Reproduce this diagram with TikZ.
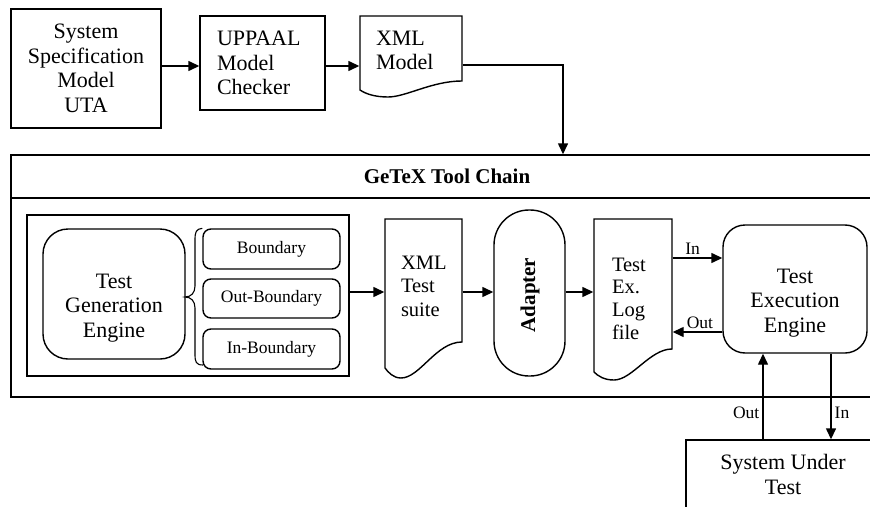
\documentclass[tikz,border=0pt]{standalone}
\usepackage{fontspec}
\setmainfont{Liberation Serif}
\usetikzlibrary{arrows.meta}
\begin{document}
\begin{tikzpicture}[x=1pt, y=-1pt, line width=1.4pt,
  arr/.style={-{Triangle[length=11pt,width=10pt]}},
  txt/.style={font=\fontsize{22}{24.5}\selectfont, inner sep=0pt},
  doctxt/.style={font=\fontsize{20.5}{23.5}\selectfont, inner sep=0pt},
  lbl/.style={font=\fontsize{17.5}{20}\selectfont, inner sep=3pt},
  plainbox/.style={draw, rectangle, inner sep=0pt},
  shapebox/.style={rectangle, inner sep=0pt},
  kindbox/.style={draw, rounded corners=8pt, minimum width=137pt,
    inner sep=0pt, font=\fontsize{17.5}{20}\selectfont}]
\useasboundingbox (0,0) rectangle (870,506);

% model side
\node[plainbox, txt, align=center, minimum width=150pt, minimum height=119pt]
  (spec) at (86,68.5) {System\\Specification\\Model\\UTA};
\node[plainbox, txt, align=left, text width=91pt, minimum width=125pt,
  minimum height=94pt] (uppaal) at (262.5,63) {UPPAAL\\Model\\Checker};
\node[shapebox, txt, align=left, text width=70pt, minimum width=102pt,
  minimum height=70pt] (xmlm) at (411,50.5) {XML\\Model};
\draw (360,16) -- (462,16) -- (462,81)
  .. controls (432,81) and (406,97) .. (388,97)
  .. controls (375,97) and (366,94) .. (360,90) -- cycle;

% tool chain frame
\node[plainbox, minimum width=875pt, minimum height=242pt] (chain) at (448.5,276) {};
\draw (chain.west |- 0,198) -- (chain.east |- 0,198);
\node[txt, font=\fontsize{21}{24.5}\selectfont\bfseries] (title) at (447,176) {GeTeX Tool Chain};

% generator group
\node[plainbox, minimum width=322pt, minimum height=161pt] (gen) at (188,295.5) {};
\node[draw, rounded corners=25pt, minimum width=142pt, minimum height=130pt,
  inner sep=0pt] (tge) at (114,294) {};
\node[txt, align=center] (tgetext) at (114,308) {Test\\Generation\\Engine};
\node[kindbox, minimum height=40pt] (bnd) at (271.5,249) {Boundary};
\node[kindbox, minimum height=39pt] (obnd) at (271.5,298.5) {Out-Boundary};
\node[kindbox, minimum height=40pt] (ibnd) at (271.5,349) {In-Boundary};
\draw[line width=1.1pt] (bnd.north west)
  .. controls (196,229) and (195,232) .. (195,240) -- (195,286)
  .. controls (195,293) and (191,297) .. (185,297)
  .. controls (191,297) and (195,301) .. (195,308) -- (195,354)
  .. controls (195,362) and (196,365) .. (203,365);

% test suite document
\node[shapebox, minimum width=77pt, minimum height=150pt] (xmlts) at (423.5,294) {};
\draw (385,219) -- (462,219) -- (462,342)
  .. controls (436,342) and (420,378) .. (401,378)
  .. controls (393,378) and (388,372) .. (385,368) -- cycle;
\node[doctxt, align=left, text width=46pt] (xmltstext) at (424,286) {XML\\Test\\suite};

% adapter
\node[draw, rounded corners=35pt, minimum width=71pt, minimum height=166pt,
  inner sep=0pt] (adapter) at (529.5,293) {};
\node[txt, rotate=90, font=\fontsize{21}{24.5}\selectfont\bfseries] (adaptertext)
  at (530,295) {Adapter};

% log document
\node[shapebox, minimum width=78pt, minimum height=151pt] (log) at (633,294.5) {};
\draw (594,219) -- (672,219) -- (672,349)
  .. controls (650,349) and (632,380) .. (614,380)
  .. controls (604,380) and (598,376) .. (594,372) -- cycle;
\node[doctxt, align=left, text width=40pt] (logtext) at (632,299)
  {\fontsize{20.5}{22.5}\selectfont Test\\Ex.\\Log\\file};

% execution engine
\node[draw, rounded corners=22pt, minimum width=144pt, minimum height=128pt,
  inner sep=0pt] (tee) at (795,289) {};
\node[txt, align=center] (teetext) at (795,303) {Test\\Execution\\Engine};

% system under test
\node[plainbox, minimum width=200pt, minimum height=80pt] (sut) at (786,480) {};
\node[txt, align=center] (suttext) at (783,474.5) {System Under\\Test};

% connectors
\draw[arr] (spec.east |- 0,66) -- (uppaal.west |- 0,66);
\draw[arr] (uppaal.east |- 0,66) -- (xmlm.west |- 0,66);
\draw[arr] (xmlm.east |- 0,65) -| (chain.north -| 563,0);
\draw[arr] (gen.east |- 0,292) -- (xmlts.west |- 0,292);
\draw[arr] (xmlts.east |- 0,292) -- (adapter.west |- 0,292);
\draw[arr] (adapter.east |- 0,292) -- (log.west |- 0,292);
\draw[arr] (log.east |- 0,258) -- (tee.west |- 0,258)
  node[lbl, pos=0.4, above] {In};
\draw[arr] (tee.west |- 0,332) -- (log.east |- 0,332)
  node[lbl, pos=0.45, above] {Out};
\draw[arr] (sut.north -| 763,0) -- (tee.south -| 763,0)
  node[lbl, pos=0.31, left] {Out};
\draw[arr] (tee.south -| 831,0) -- (sut.north -| 831,0)
  node[lbl, pos=0.69, right] {In};
\end{tikzpicture}
\end{document}
